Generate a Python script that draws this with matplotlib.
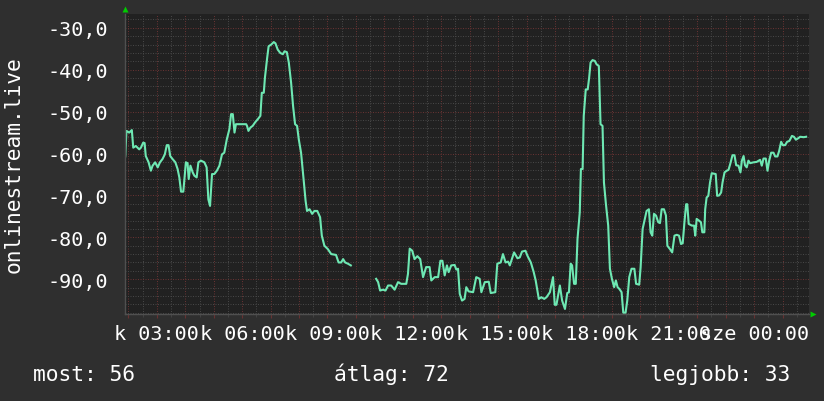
"""
    RRD-style daily graph of onlinestream.live
"""
import numpy as np
import matplotlib
matplotlib.use("Agg")
import matplotlib.pyplot as plt

# hours since Tuesday 00:00, the line breaks between the two parts
night_hours = [1.85, 1.89, 1.93, 2.03, 2.12, 2.17, 2.26, 2.32, 2.38, 2.44,
               2.52, 2.57, 2.61, 2.71, 2.79, 2.85, 2.94, 3.03, 3.11, 3.20,
               3.28, 3.35, 3.41, 3.47, 3.55, 3.65, 3.73, 3.79, 3.85, 3.93,
               3.98, 4.02, 4.08, 4.12, 4.18, 4.26, 4.32, 4.40, 4.46, 4.55,
               4.67, 4.75, 4.81, 4.87, 4.94, 5.02, 5.11, 5.20, 5.29, 5.37,
               5.46, 5.55, 5.61, 5.67, 5.73, 5.78, 6.14, 6.17, 6.22, 6.29,
               6.37, 6.45, 6.55, 6.64, 6.69, 6.76, 6.80, 6.88, 6.93, 7.02,
               7.11, 7.17, 7.25, 7.34, 7.43, 7.49, 7.57, 7.64, 7.72, 7.79,
               7.86, 7.93, 7.99, 8.07, 8.17, 8.23, 8.28, 8.37, 8.46, 8.54,
               8.64, 8.74, 8.80, 8.89, 9.01, 9.13, 9.30, 9.39, 9.48, 9.55,
               9.62, 9.72, 9.82]
night_values = [-62.5, -60.6, -54.6, -55.0, -54.4, -58.6, -58.2, -58.6, -59.0, -58.6,
                -57.4, -57.5, -60.6, -62.1, -64.1, -62.9, -62.1, -63.3, -62.1, -61.3,
                -60.2, -58.0, -58.0, -60.6, -61.3, -62.1, -63.7, -65.7, -69.1, -69.1,
                -65.3, -62.1, -62.3, -66.1, -62.9, -64.5, -65.3, -65.7, -62.1, -61.7,
                -62.1, -63.3, -70.9, -72.5, -64.9, -64.9, -64.1, -62.9, -60.2, -59.8,
                -56.6, -54.2, -50.6, -50.6, -55.0, -53.0, -53.0, -53.4, -54.6, -53.8,
                -53.4, -52.6, -51.8, -51.0, -45.5, -45.5, -41.9, -37.1, -34.4, -34.0,
                -33.4, -33.7, -35.2, -36.0, -36.3, -35.6, -35.8, -38.3, -43.1, -48.7,
                -53.0, -53.4, -56.6, -59.8, -66.9, -71.3, -73.7, -73.3, -74.4, -73.7,
                -73.7, -75.2, -79.6, -82.0, -82.8, -84.0, -84.2, -86.0, -86.0, -85.2,
                -86.0, -86.3, -86.7]

day_hours = [10.71, 10.78, 10.85, 10.95, 11.04, 11.13, 11.24, 11.36, 11.48, 11.59,
             11.77, 11.83, 11.89, 11.98, 12.06, 12.16, 12.26, 12.36, 12.47, 12.59,
             12.65, 12.77, 12.89, 12.97, 13.04, 13.12, 13.20, 13.26, 13.35, 13.47,
             13.53, 13.59, 13.65, 13.73, 13.82, 13.88, 13.96, 14.12, 14.23, 14.35,
             14.41, 14.53, 14.67, 14.74, 14.90, 14.97, 15.09, 15.17, 15.26, 15.35,
             15.41, 15.56, 15.68, 15.76, 15.84, 15.96, 16.03, 16.15, 16.25, 16.32,
             16.43, 16.52, 16.62, 16.70, 16.82, 16.93, 16.99, 17.05, 17.17, 17.25,
             17.35, 17.43, 17.49, 17.55, 17.60, 17.67, 17.73, 17.79, 17.87, 17.91,
             17.97, 18.01, 18.08, 18.15, 18.20, 18.25, 18.32, 18.40, 18.46, 18.54,
             18.60, 18.67, 18.72, 18.79, 18.87, 18.93, 19.00, 19.08, 19.14, 19.20,
             19.26, 19.34, 19.40, 19.48, 19.54, 19.61, 19.69, 19.79, 19.85, 19.96,
             20.01, 20.08, 20.16, 20.22, 20.30, 20.36, 20.42, 20.48, 20.55, 20.63,
             20.69, 20.75, 20.83, 20.90, 20.95, 21.04, 21.12, 21.20, 21.28, 21.36,
             21.43, 21.49, 21.55, 21.61, 21.65, 21.70, 21.81, 21.89, 21.93, 21.98,
             22.06, 22.13, 22.18, 22.25, 22.28, 22.33, 22.39, 22.45, 22.51, 22.65,
             22.70, 22.77, 22.84, 22.89, 22.96, 23.04, 23.10, 23.16, 23.24, 23.31,
             23.37, 23.45, 23.52, 23.57, 23.63, 23.68, 23.74, 23.80, 23.86, 23.98,
             24.09, 24.21, 24.27, 24.33, 24.41, 24.47, 24.53, 24.60, 24.68, 24.74,
             24.82, 24.88, 24.95, 25.01, 25.09, 25.16, 25.24, 25.33, 25.40, 25.47,
             25.54, 25.62, 25.74, 25.83]
day_values = [-89.9, -90.7, -92.7, -92.5, -92.7, -91.5, -91.5, -92.5, -90.7, -91.1,
              -91.1, -88.7, -82.7, -83.2, -85.2, -84.5, -85.2, -89.5, -87.1, -87.1,
              -90.3, -89.5, -89.5, -85.6, -85.6, -89.1, -86.7, -88.3, -86.7, -86.6,
              -87.7, -87.5, -93.5, -95.1, -94.7, -91.9, -92.9, -93.1, -89.5, -89.9,
              -93.1, -90.7, -90.6, -93.3, -93.1, -86.3, -86.0, -84.0, -86.0, -85.8,
              -86.7, -83.6, -85.0, -84.8, -83.4, -83.2, -84.4, -86.0, -88.3, -90.3,
              -94.7, -94.3, -94.7, -94.3, -93.1, -89.5, -96.1, -96.1, -91.5, -95.1,
              -97.1, -93.3, -93.1, -86.3, -86.7, -91.1, -91.1, -80.4, -74.0, -63.7,
              -63.7, -51.0, -44.7, -44.7, -41.9, -38.3, -37.7, -37.9, -38.7, -39.1,
              -53.0, -53.4, -66.9, -72.1, -77.2, -87.5, -89.9, -91.9, -90.3, -91.9,
              -92.3, -93.1, -98.0, -98.0, -95.1, -89.5, -87.5, -87.5, -91.1, -91.3,
              -87.1, -78.0, -75.6, -73.7, -73.3, -78.8, -79.6, -74.4, -74.8, -76.4,
              -76.6, -73.3, -73.3, -74.8, -82.0, -82.8, -83.6, -79.6, -79.4, -79.6,
              -81.6, -81.4, -76.4, -72.1, -72.1, -76.8, -77.2, -77.2, -79.6, -75.6,
              -76.0, -76.4, -78.8, -78.8, -73.3, -70.5, -70.1, -66.9, -64.7, -64.9,
              -70.1, -70.0, -69.3, -66.9, -64.5, -64.1, -63.9, -62.5, -60.4, -60.4,
              -62.8, -62.9, -64.5, -61.7, -60.6, -62.8, -63.3, -61.7, -62.3, -62.1,
              -62.0, -61.5, -62.9, -61.2, -61.2, -64.1, -61.7, -59.8, -59.8, -60.7,
              -60.7, -59.4, -57.2, -58.0, -58.0, -57.2, -57.0, -55.8, -56.0, -56.7,
              -56.4, -56.0, -56.1, -56.0]

tick_hours = [3, 6, 9, 12, 15, 18, 21, 24]
tick_labels = ["k 03:00", "k 06:00", "k 09:00", "k 12:00",
               "k 15:00", "k 18:00", "k 21:00", "sze 00:00"]
y_ticks = [-90, -80, -70, -60, -50, -40, -30]
ylabel = "onlinestream.live"
legend_items = [("most: 56", 33), ("átlag: 72", 334), ("legjobb: 33", 650)]

plt.rcParams["font.family"] = ["DejaVu Sans Mono", "DejaVu Sans"]
FS = 14.5
FS_BIG = 15.3
BG = "#2f2f2f"
PLOT_BG = "#212121"
LINE = "#6ee8b3"
MINOR = "#464646"
MAJOR = "#663232"

W, H = 824, 402
fig = plt.figure(figsize=(W / 100, H / 100), dpi=100, facecolor=BG)
ax = fig.add_axes([125 / W, 87 / H, 684 / W, 300 / H], facecolor=PLOT_BG)

ax.plot(night_hours, night_values, color=LINE, lw=1.5)
ax.plot(day_hours, day_values, color=LINE, lw=1.5)

ax.set_xlim(1.88, 25.93)
ax.set_ylim(-98.3, -26.7)

# grid: hours / half hours, 10 / 2 units
hours = np.arange(2, 26)
ax.set_xticks(hours)
ax.set_xticklabels([tick_labels[tick_hours.index(h)] if h in tick_hours else "" for h in hours])
ax.set_xticks(np.arange(2, 26, 0.5), minor=True)
ax.set_yticks(y_ticks)
ax.set_yticklabels([f"{v:.1f}".replace(".", ",") for v in y_ticks])
ax.set_yticks(np.arange(-98, -26, 2), minor=True)

ax.grid(which="minor", color=MINOR, lw=0.72, linestyle=(0, (1, 1.5)))
ax.grid(which="major", color=MAJOR, lw=0.72, linestyle=(0, (1, 1.5)))
ax.set_axisbelow(True)

ax.tick_params(axis="x", which="major", length=3, color=MAJOR, pad=4,
               labelsize=FS, labelcolor="white")
ax.tick_params(axis="x", which="minor", length=2, color=MINOR)
ax.tick_params(axis="y", which="both", length=0, pad=12,
               labelsize=FS, labelcolor="white")

for side in ["top", "right"]:
    ax.spines[side].set_visible(False)
for side in ["left", "bottom"]:
    ax.spines[side].set_color("#505050")
    ax.spines[side].set_linewidth(1)

# little green arrows at the axis ends
ax.plot([0], [1.017], marker="^", ms=5, color="#00cc00", mec="none",
        transform=ax.transAxes, clip_on=False)
ax.plot([1.006], [0], marker=">", ms=5, color="#00cc00", mec="none",
        transform=ax.transAxes, clip_on=False)

fig.text(14 / W, 1 - 165 / H, ylabel, rotation=90, ha="center", va="center",
         fontsize=FS_BIG, color="white")

for text, x in legend_items:
    fig.text(x / W, 1 - 381 / H, text, ha="left", va="baseline",
             fontsize=FS_BIG, color="white")

fig.savefig("out.png", dpi=100, facecolor=BG)
